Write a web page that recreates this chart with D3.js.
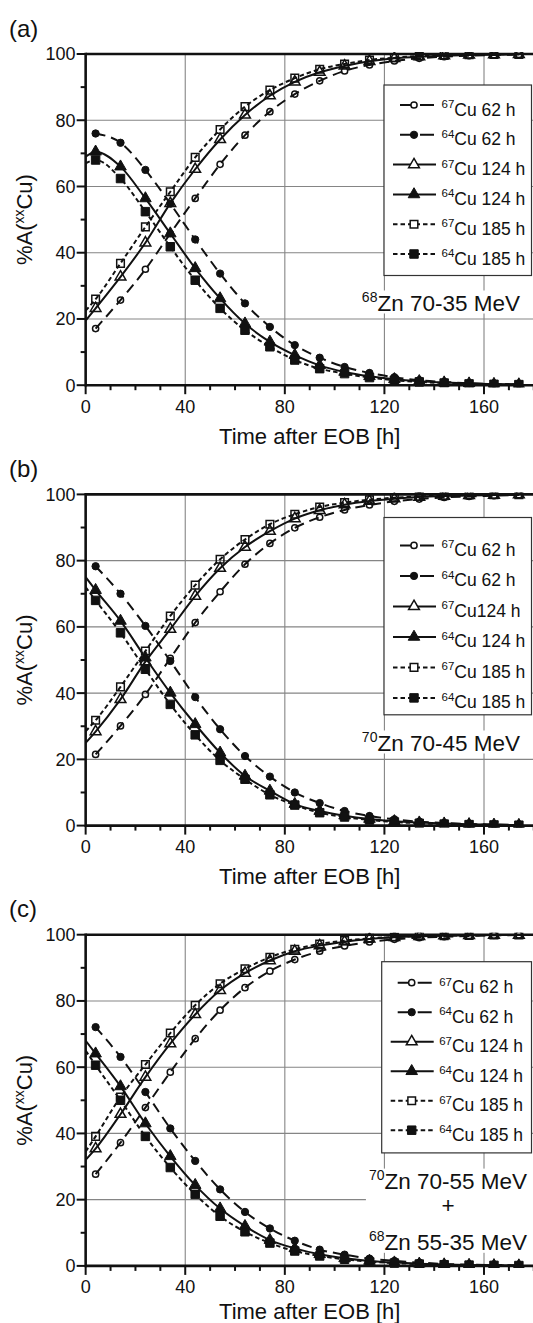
<!DOCTYPE html>
<html><head><meta charset="utf-8">
<script src="https://cdn.jsdelivr.net/npm/d3@7/dist/d3.min.js"></script>
<style>body{margin:0;background:#fff} svg text{font-family:"Liberation Sans",Arial,Helvetica,sans-serif;fill:#111}</style>
</head><body><svg id="chart" width="533" height="1323"></svg>
<script>
// ---------- data ----------
const times = [4,14,24,34,44,54,64,74,84,94,104,114,124,134,144,154,164,174];
const xTicks = [0,40,80,120,160];
const yTicks = [0,20,40,60,80,100];
const panelLabels = ["(a)","(b)","(c)"];
const seriesIsotopes = ["67","64","67","64","67","64"];
const seriesNames = ["Cu 62 h","Cu 62 h","Cu 124 h","Cu 124 h","Cu 185 h","Cu 185 h"];
const seriesNamesB = ["Cu 62 h","Cu 62 h","Cu124 h","Cu 124 h","Cu 185 h","Cu 185 h"];

// panel (a): 68Zn 70-35 MeV
const a_cu67_62  = [17.1,25.7,35.0,45.8,56.4,66.7,75.5,82.6,87.9,91.9,94.9,96.7,97.9,98.7,99.2,99.5,99.7,99.8];
const a_cu64_62  = [76.0,73.2,65.0,54.8,44.0,33.7,24.7,17.6,12.1,8.3,5.5,3.7,2.4,1.5,1.0,0.6,0.4,0.25];
const a_cu67_124 = [23.2,32.7,43.0,54.9,65.2,74.2,81.6,87.4,91.6,94.5,96.4,97.8,98.7,99.2,99.5,99.7,99.8,99.9];
const a_cu64_124 = [70.5,66.0,56.4,45.8,35.3,26.2,18.6,13.1,9.1,6.0,4.0,2.7,1.8,1.2,0.8,0.5,0.35,0.23];
const a_cu67_185 = [26.0,36.8,47.8,58.4,68.8,77.2,84.1,89.1,92.7,95.4,97.0,98.2,98.9,99.4,99.6,99.8,99.9,99.9];
const a_cu64_185 = [68.0,62.4,52.4,41.8,31.7,23.2,16.6,11.6,7.6,5.0,3.5,2.3,1.5,1.0,0.65,0.4,0.27,0.18];
const a_start    = [null,null,19.5,69.0,22.5,67.0];

// panel (b): 70Zn 70-45 MeV
const b_cu67_62  = [21.5,30.1,39.6,50.5,61.3,70.6,78.9,85.2,89.9,93.1,95.3,96.8,97.9,98.6,99.1,99.4,99.6,99.8];
const b_cu64_62  = [78.3,70.0,60.3,49.7,38.8,29.1,21.0,14.8,10.0,6.8,4.4,2.9,1.9,1.2,0.8,0.5,0.33,0.22];
const b_cu67_124 = [28.4,38.1,49.5,59.3,69.3,77.7,84.1,88.9,92.7,95.2,96.9,98.0,98.7,99.2,99.5,99.7,99.8,99.9];
const b_cu64_124 = [71.1,61.8,50.7,40.1,30.6,22.0,15.0,10.5,6.5,4.4,3.0,2.0,1.3,0.9,0.6,0.4,0.25,0.17];
const b_cu67_185 = [31.8,41.9,52.7,63.3,72.6,80.4,86.4,91.0,94.0,96.2,97.5,98.4,99.0,99.4,99.6,99.8,99.9,99.9];
const b_cu64_185 = [68.0,58.2,47.2,36.6,27.4,19.7,14.0,9.3,6.2,3.9,2.6,1.7,1.1,0.7,0.45,0.3,0.2,0.12];
const b_start    = [null,null,25.0,75.0,28.5,72.0];

// panel (c): 70Zn 70-55 MeV + 68Zn 55-35 MeV
const c_cu67_62  = [27.7,37.2,47.8,58.5,68.6,77.2,84.0,89.0,92.5,95.0,96.6,97.8,98.6,99.1,99.4,99.6,99.8,99.9];
const c_cu64_62  = [72.1,63.1,52.5,41.5,31.7,23.1,16.3,11.3,7.6,4.9,3.4,2.2,1.5,1.0,0.6,0.4,0.27,0.18];
const c_cu67_124 = [35.4,45.8,57.0,67.1,75.9,83.2,88.4,92.2,95.0,96.7,97.9,98.7,99.2,99.5,99.7,99.8,99.9,99.9];
const c_cu64_124 = [64.1,54.2,43.0,33.1,24.4,17.3,12.0,7.8,5.3,3.5,2.3,1.5,1.0,0.65,0.42,0.28,0.18,0.12];
const c_cu67_185 = [39.1,51.0,60.8,70.3,78.7,85.2,89.7,93.2,95.6,97.2,98.2,98.9,99.3,99.6,99.7,99.8,99.9,99.9];
const c_cu64_185 = [60.6,50.0,39.1,29.7,21.6,15.0,10.3,6.9,4.5,3.0,2.0,1.3,0.85,0.55,0.36,0.24,0.16,0.1];
const c_start    = [null,null,32.0,68.0,34.5,65.0];

const annotA = [{sup:"68", txt:"Zn 70-35 MeV"}];
const annotB = [{sup:"70", txt:"Zn 70-45 MeV"}];
const annotC = [{sup:"70", txt:"Zn 70-55 MeV"},{sup:"", txt:"+"},{sup:"68", txt:"Zn 55-35 MeV"}];

// ---------- layout / styles ----------
const panels = [
  {label:panelLabels[0], series:[a_cu67_62,a_cu64_62,a_cu67_124,a_cu64_124,a_cu67_185,a_cu64_185], start:a_start, names:seriesNames, annot:annotA,
   top:54, leg:{x:384, top:85, bottom:275.5, row0:105, step:29.8}, annY:[310.5], annX:520, annAnchor:"end", boxToEdge:false, titleDy:58.5},
  {label:panelLabels[1], series:[b_cu67_62,b_cu64_62,b_cu67_124,b_cu64_124,b_cu67_185,b_cu64_185], start:b_start, names:seriesNamesB, annot:annotB,
   top:494.4, leg:{x:384, top:517.5, bottom:714.8, row0:545.4, step:30.5}, annY:[750.5], annX:520, annAnchor:"end", boxToEdge:false, titleDy:58.5},
  {label:panelLabels[2], series:[c_cu67_62,c_cu64_62,c_cu67_124,c_cu64_124,c_cu67_185,c_cu64_185], start:c_start, names:seriesNames, annot:annotC,
   top:934.7, leg:{x:381.7, top:961.7, bottom:1152.9, row0:982.7, step:29.5}, annY:[1188.6,1212.5,1249.8], annX:448, annAnchor:"middle", boxToEdge:true, titleDy:53}
];
const styles = [
  {sym:d3.symbolCircle,   size:30, fill:"none", dash:"10,6"},
  {sym:d3.symbolCircle,   size:42, fill:"#111", dash:"10,6"},
  {sym:d3.symbolTriangle, size:50, fill:"none", dash:null},
  {sym:d3.symbolTriangle, size:58, fill:"#111", dash:null},
  {sym:d3.symbolSquare,   size:58, fill:"none", dash:"4.5,3"},
  {sym:d3.symbolSquare,   size:72, fill:"#111", dash:"4.5,3"}
];
const left = 85.65, right = 533.8, plotH = 331.2;
const svg = d3.select("#chart");
const x = d3.scaleLinear().domain([0,180]).range([left,right]);

panels.forEach((p,pi)=>{
  const y = d3.scaleLinear().domain([0,100]).range([p.top+plotH, p.top]);
  const g = svg.append("g");
  const y0 = y(0);

  // grid
  g.selectAll(".vg").data(xTicks.filter(d=>d>0)).enter().append("line")
    .attr("x1",d=>x(d)).attr("x2",d=>x(d)).attr("y1",y(100)).attr("y2",y0)
    .attr("stroke","#858585").attr("stroke-width",1.1);
  g.selectAll(".hg").data(yTicks.filter(d=>d>0&&d<100)).enter().append("line")
    .attr("x1",left).attr("x2",right).attr("y1",d=>y(d)).attr("y2",d=>y(d))
    .attr("stroke","#858585").attr("stroke-width",1.1);

  // annotation background + text
  const ag = g.append("g");
  p.annot.forEach((a,i)=>{
    const t = ag.append("text").attr("x",p.annX).attr("y",p.annY[i]).attr("text-anchor",p.annAnchor);
    if (a.sup) { t.append("tspan").attr("font-size",14).attr("dy",-9).text(a.sup);
                 t.append("tspan").attr("font-size",22.5).attr("dy",9).text(a.txt); }
    else t.append("tspan").attr("font-size",22.5).text(a.txt);
  });
  const bb = ag.node().getBBox();
  const bx = bb.x-3, bw = p.boxToEdge ? (right - bx) : bb.width+6;
  ag.insert("rect","text").attr("x",bx).attr("y",bb.y+2).attr("width",bw).attr("height",bb.height-4).attr("fill","#fff");

  // clip
  const cid = "clip"+pi;
  svg.append("clipPath").attr("id",cid).append("rect").attr("x",left).attr("y",p.top-2).attr("width",right-left).attr("height",plotH+4);

  // lines
  const line = d3.line().x(d=>x(d[0])).y(d=>y(d[1])).curve(d3.curveMonotoneX);
  const lg = g.append("g").attr("clip-path",`url(#${cid})`);
  p.series.forEach((vals,si)=>{
    let pts = times.map((t,i)=>[t,vals[i]]);
    if (p.start[si]!==null) pts = [[0,p.start[si]]].concat(pts);
    lg.append("path").attr("d",line(pts)).attr("fill","none").attr("stroke","#111")
      .attr("stroke-width",2).attr("stroke-dasharray",styles[si].dash);
  });
  // markers
  p.series.forEach((vals,si)=>{
    const st = styles[si];
    lg.selectAll(null).data(times.map((t,i)=>[t,vals[i]])).enter().append("path")
      .attr("d",d3.symbol().type(st.sym).size(st.size))
      .attr("transform",d=>`translate(${x(d[0])},${y(d[1])})`)
      .attr("fill",st.fill).attr("stroke","#111").attr("stroke-width",st.fill==="none"?1.5:1);
  });

  // legend
  const L = p.leg;
  const lgd = g.append("g");
  lgd.append("rect").attr("x",L.x).attr("y",L.top).attr("width",531.5-L.x).attr("height",L.bottom-L.top)
    .attr("fill","#fff").attr("stroke","#333").attr("stroke-width",1.2);
  p.names.forEach((nm,si)=>{
    const st = styles[si];
    const ry = L.row0 + si*L.step;
    const x1 = si<2 ? L.x+16 : L.x+9;
    lgd.append("line").attr("x1",x1).attr("x2",L.x+52).attr("y1",ry).attr("y2",ry)
      .attr("stroke","#111").attr("stroke-width",2).attr("stroke-dasharray",si<2?"14,6":st.dash);
    lgd.append("path").attr("d",d3.symbol().type(st.sym).size(st.size))
      .attr("transform",`translate(${L.x+30},${ry})`)
      .attr("fill",st.fill==="none"?"#fff":st.fill).attr("stroke","#111").attr("stroke-width",st.fill==="none"?1.5:1);
    const t = lgd.append("text").attr("x",L.x+57.5).attr("y",ry+10.5);
    t.append("tspan").attr("font-size",11.5).attr("dy",-7.5).text(seriesIsotopes[si]);
    t.append("tspan").attr("font-size",17.5).attr("dy",7.5).text(nm);
  });

  // axes lines
  g.append("line").attr("x1",left).attr("x2",right+2).attr("y1",p.top).attr("y2",p.top).attr("stroke","#111").attr("stroke-width",2.6);
  g.append("line").attr("x1",left).attr("x2",right+2).attr("y1",y0).attr("y2",y0).attr("stroke","#111").attr("stroke-width",2.6);
  g.append("line").attr("x1",left).attr("x2",left).attr("y1",p.top-1.3).attr("y2",y0+1.3).attr("stroke","#111").attr("stroke-width",2.6);

  // ticks
  const xMinor = d3.range(0,181,10);
  g.selectAll(null).data(xMinor).enter().append("line")
    .attr("x1",d=>x(d)).attr("x2",d=>x(d)).attr("y1",y0).attr("y2",d=>y0+(d%40===0?9:5))
    .attr("stroke","#111").attr("stroke-width",2);
  const yMinor = d3.range(0,101,10);
  g.selectAll(null).data(yMinor).enter().append("line")
    .attr("x1",d=>left-(d%20===0?9:5)).attr("x2",left).attr("y1",d=>y(d)).attr("y2",d=>y(d))
    .attr("stroke","#111").attr("stroke-width",2);

  // tick labels
  g.selectAll(null).data(xTicks).enter().append("text")
    .attr("x",d=>x(d)).attr("y",y0+27.5).attr("text-anchor","middle").attr("font-size",18).text(d=>d);
  g.selectAll(null).data(yTicks).enter().append("text")
    .attr("x",75.5).attr("y",d=>y(d)).attr("dy","0.36em").attr("text-anchor","end").attr("font-size",18).text(d=>d);

  // axis titles
  g.append("text").attr("x",(left+right)/2).attr("y",y0+p.titleDy).attr("text-anchor","middle").attr("font-size",22).text("Time after EOB [h]");
  const yt = g.append("text").attr("transform",`translate(32,${p.top+plotH/2}) rotate(-90)`).attr("text-anchor","middle").attr("font-size",22);
  yt.append("tspan").text("%A(");
  yt.append("tspan").attr("font-size",14).attr("dy",-8).text("xx");
  yt.append("tspan").attr("dy",8).text("Cu)");

  // panel label
  g.append("text").attr("x",9).attr("y",p.top-17.5).attr("font-size",24).text(p.label);
});
</script></body></html>
